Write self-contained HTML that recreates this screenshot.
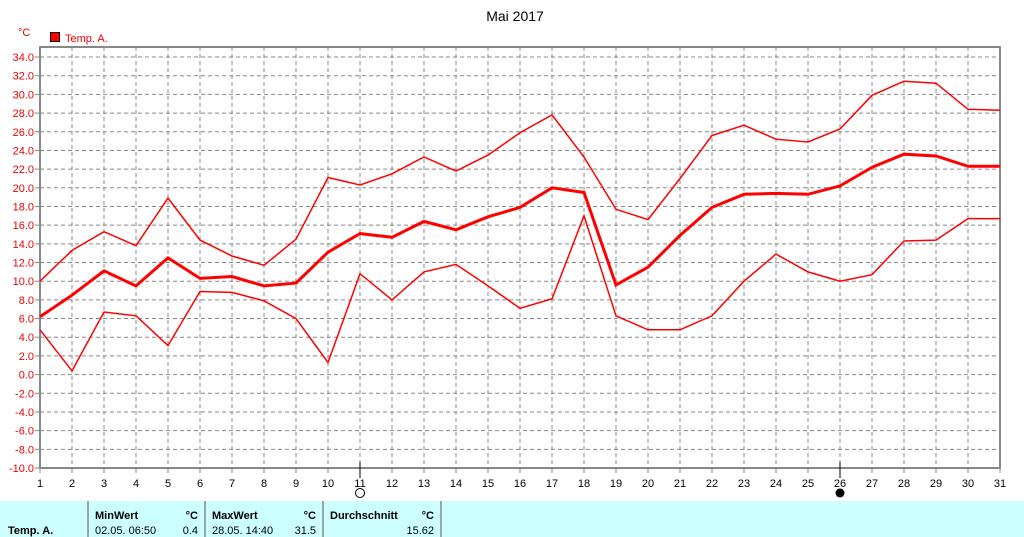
<!DOCTYPE html>
<html><head><meta charset="utf-8"><style>
body{margin:0;width:1024px;height:537px;background:#fff;overflow:hidden;font-family:"Liberation Sans",sans-serif}
svg{position:absolute;left:0;top:0}
</style></head><body>
<svg id="s" width="1024" height="537" xmlns="http://www.w3.org/2000/svg" font-family="Liberation Sans, sans-serif"></svg>
<script>
const s=document.getElementById('s');let h='';
const X=d=>40+(d-1)*32, Y=v=>374.6-v*9.34;
h+='<text x="515" y="21" font-size="14" text-anchor="middle" fill="#000">Mai 2017</text>';
h+='<text x="18" y="36" font-size="11" fill="#e00">°C</text>';
h+='<rect x="50.5" y="32.5" width="9" height="9" fill="#f00" stroke="#000"/>';
h+='<text x="65" y="42" font-size="11" fill="#e00">Temp. A.</text>';
for(let v=-10;v<=34;v+=2){const y=Y(v);
 if(v>-10)h+=`<line x1="40" x2="1000" y1="${y}" y2="${y}" stroke="#888" stroke-dasharray="4,3"/>`;
 h+=`<line x1="35" x2="40" y1="${y}" y2="${y}" stroke="#888"/>`;
 h+=`<text x="34" y="${y+4}" font-size="11" fill="#e00" text-anchor="end">${v.toFixed(1)}</text>`;}
for(let d=1;d<=31;d++){const x=X(d);
 if(d>1&&d<31)h+=`<line x1="${x}" x2="${x}" y1="47" y2="468" stroke="#888" stroke-dasharray="4,3"/>`;
 h+=`<line x1="${x}" x2="${x}" y1="468" y2="473" stroke="#888"/>`;
 h+=`<text x="${x}" y="487" font-size="11" text-anchor="middle">${d}</text>`;}
h+='<rect x="40" y="47" width="960" height="421" fill="none" stroke="#888" stroke-width="2"/>';
h+=`<line x1="${X(11)}" x2="${X(11)}" y1="462" y2="478" stroke="#000"/><circle cx="${X(11)}" cy="493" r="4.5" fill="none" stroke="#000"/>`;
h+=`<line x1="${X(26)}" x2="${X(26)}" y1="462" y2="478" stroke="#000"/><circle cx="${X(26)}" cy="493" r="4.5" fill="#000"/>`;
const mx=[10,13.3,15.3,13.8,18.9,14.4,12.7,11.7,14.5,21.1,20.3,21.5,23.3,21.8,23.5,25.9,27.8,23.3,17.7,16.6,21.0,25.6,26.7,25.2,24.9,26.3,29.9,31.4,31.2,28.4,28.3];
const av=[6.2,8.5,11.1,9.5,12.5,10.3,10.5,9.5,9.8,13.1,15.1,14.7,16.4,15.5,16.9,17.9,20.0,19.5,9.6,11.5,14.9,17.9,19.3,19.4,19.3,20.2,22.2,23.6,23.4,22.3,22.3];
const mn=[4.8,0.4,6.7,6.3,3.1,8.9,8.8,7.9,6.0,1.3,10.8,8.0,11.0,11.8,9.5,7.1,8.1,17.0,6.3,4.8,4.8,6.3,10.0,12.9,11.0,10.0,10.7,14.3,14.4,16.7,16.7];
const pl=(a,w)=>`<polyline fill="none" stroke="#f00" stroke-width="${w}" points="${a.map((v,i)=>X(i+1)+','+Y(v).toFixed(1)).join(' ')}"/>`;
h+=pl(mx,1.5)+pl(mn,1.5)+pl(av,3);
h+='<rect x="0" y="501" width="1024" height="36" fill="#ccffff"/>';
for(const x of [88,205,323,441])h+=`<line x1="${x}" x2="${x}" y1="501" y2="537" stroke="#888" stroke-width="1.5"/>`;
h+='<g font-size="11"><text x="8" y="534" font-weight="bold">Temp. A.</text>'+
'<text x="95" y="519" font-weight="bold">MinWert</text><text x="198" y="519" font-weight="bold" text-anchor="end">°C</text>'+
'<text x="95" y="534">02.05.  06:50</text><text x="198" y="534" text-anchor="end">0.4</text>'+
'<text x="212" y="519" font-weight="bold">MaxWert</text><text x="316" y="519" font-weight="bold" text-anchor="end">°C</text>'+
'<text x="212" y="534">28.05.  14:40</text><text x="316" y="534" text-anchor="end">31.5</text>'+
'<text x="330" y="519" font-weight="bold">Durchschnitt</text><text x="434" y="519" font-weight="bold" text-anchor="end">°C</text>'+
'<text x="434" y="534" text-anchor="end">15.62</text></g>';
s.innerHTML=h;
</script>
</body></html>
